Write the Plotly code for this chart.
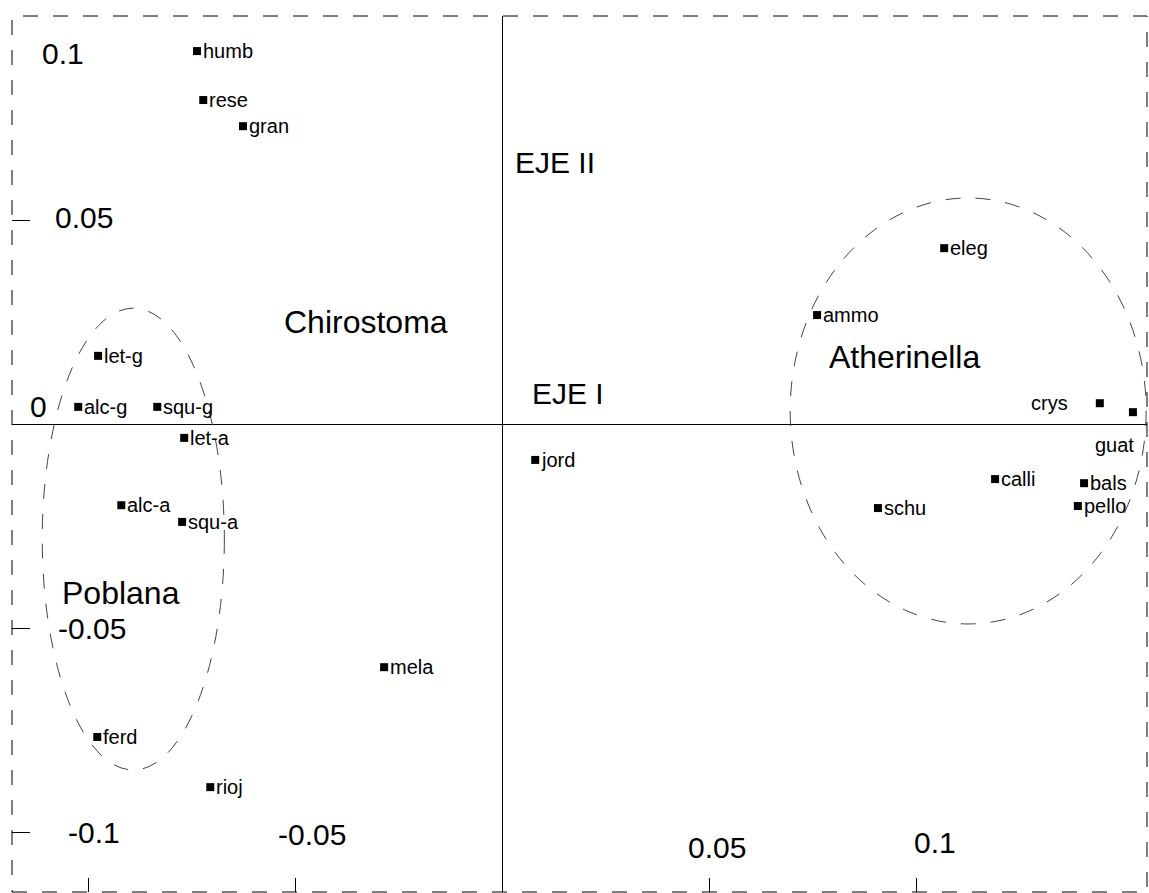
import plotly.graph_objects as go

# ---- data (EJE I, EJE II scores) ----
species = ["humb", "rese", "gran", "let-g", "alc-g", "squ-g", "let-a", "alc-a",
           "squ-a", "ferd", "rioj", "mela", "jord", "eleg", "ammo", "crys",
           "guat", "calli", "bals", "pello", "schu"]
eje1 = [-0.0737, -0.0722, -0.0626, -0.0976, -0.1024, -0.0833, -0.0768, -0.0920,
        -0.0773, -0.0978, -0.0705, -0.0285, 0.0080, 0.1068, 0.0761, 0.1444,
        0.1524, 0.1191, 0.1406, 0.1391, 0.0908]
eje2 = [0.0914, 0.0794, 0.0730, 0.0167, 0.0042, 0.0042, -0.0034, -0.0199,
        -0.0240, -0.0767, -0.0890, -0.0596, -0.0088, 0.0431, 0.0267, 0.0051,
        0.0029, -0.0135, -0.0145, -0.0201, -0.0206]

# group envelopes (centre x, centre y, radius x, radius y)
group_names = ["Poblana", "Atherinella"]
group_cx = [-0.0891, 0.1126]
group_cy = [-0.0282, 0.0032]
group_rx = [0.0220, 0.0430]
group_ry = [0.0566, 0.0522]

x_tick_vals = [-0.1, -0.05, 0.05, 0.1]
y_tick_vals = [0.05, -0.05, -0.1]

FONT = "Liberation Sans, Arial, Helvetica, sans-serif"

fig = go.Figure()
fig.add_trace(go.Scatter(
    x=eje1, y=eje2, mode="markers",
    marker=dict(symbol="square", size=8, color="black"),
    hoverinfo="text", hovertext=species, showlegend=False,
))

annotations = []
# point labels
special = {"crys": dict(xanchor="right", xshift=-30, yshift=0),
           "guat": dict(xanchor="center", xshift=-18, yshift=-33)}
for name, xv, yv in zip(species, eje1, eje2):
    opts = special.get(name, dict(xanchor="left", xshift=4, yshift=0))
    annotations.append(dict(x=xv, y=yv, text=name, showarrow=False,
                            yanchor="middle", font=dict(size=20, family=FONT, color="black"),
                            **opts))

# group and axis titles
big = dict(size=30, family=FONT, color="black")
grp = dict(size=32, family=FONT, color="black")
annotations += [
    dict(x=-0.0329, y=0.0250, text="Chirostoma", showarrow=False, xanchor="center", yanchor="middle", font=grp),
    dict(x=0.0973, y=0.0164, text="Atherinella", showarrow=False, xanchor="center", yanchor="middle", font=grp),
    dict(x=-0.0920, y=-0.0414, text="Poblana", showarrow=False, xanchor="center", yanchor="middle", font=grp),
    dict(x=0.0027, y=0.0640, text="EJE II", showarrow=False, xanchor="left", yanchor="middle", font=big),
    dict(x=0.0068, y=0.0076, text="EJE I", showarrow=False, xanchor="left", yanchor="middle", font=big),
]

# tick labels placed inside the frame as in the original figure
tick_label_pos = [("0.1", -0.1060, 0.0909), ("0.05", -0.1010, 0.0507),
                  ("0", -0.1121, 0.0042), ("-0.05", -0.0990, -0.0502),
                  ("-0.1", -0.0986, -0.1002), ("-0.05", -0.0459, -0.1007),
                  ("0.05", 0.0519, -0.1037), ("0.1", 0.1046, -0.1025)]
for t, xv, yv in tick_label_pos:
    annotations.append(dict(x=xv, y=yv, text=t, showarrow=False, xanchor="center",
                            yanchor="middle", font=big))

shapes = []
for cx, cy, rx, ry in zip(group_cx, group_cy, group_rx, group_ry):
    shapes.append(dict(type="circle", xref="x", yref="y",
                       x0=cx - rx, x1=cx + rx, y0=cy - ry, y1=cy + ry,
                       line=dict(color="#444444", width=1, dash="longdash")))
shapes.append(dict(type="rect", xref="paper", yref="paper", x0=0, x1=1, y0=0, y1=1,
                   line=dict(color="black", width=1, dash="longdash")))

fig.update_layout(
    width=1149, height=893,
    margin=dict(l=12, r=2, t=16, b=1, pad=0),
    paper_bgcolor="white", plot_bgcolor="white",
    annotations=annotations, shapes=shapes,
    xaxis=dict(range=[-0.1184, 0.1558], showgrid=False, zeroline=True,
               zerolinecolor="black", zerolinewidth=1, showline=False,
               ticks="inside", ticklen=14, tickcolor="black", tickwidth=1,
               tickvals=x_tick_vals, showticklabels=False),
    yaxis=dict(range=[-0.1147, 0.1], showgrid=False, zeroline=True,
               zerolinecolor="black", zerolinewidth=1, showline=False,
               ticks="inside", ticklen=18, tickcolor="black", tickwidth=1,
               tickvals=y_tick_vals, showticklabels=False),
    showlegend=False,
)

fig.write_html("out.html", config={"displayModeBar": False},
               post_script="document.body.style.margin='0';")
